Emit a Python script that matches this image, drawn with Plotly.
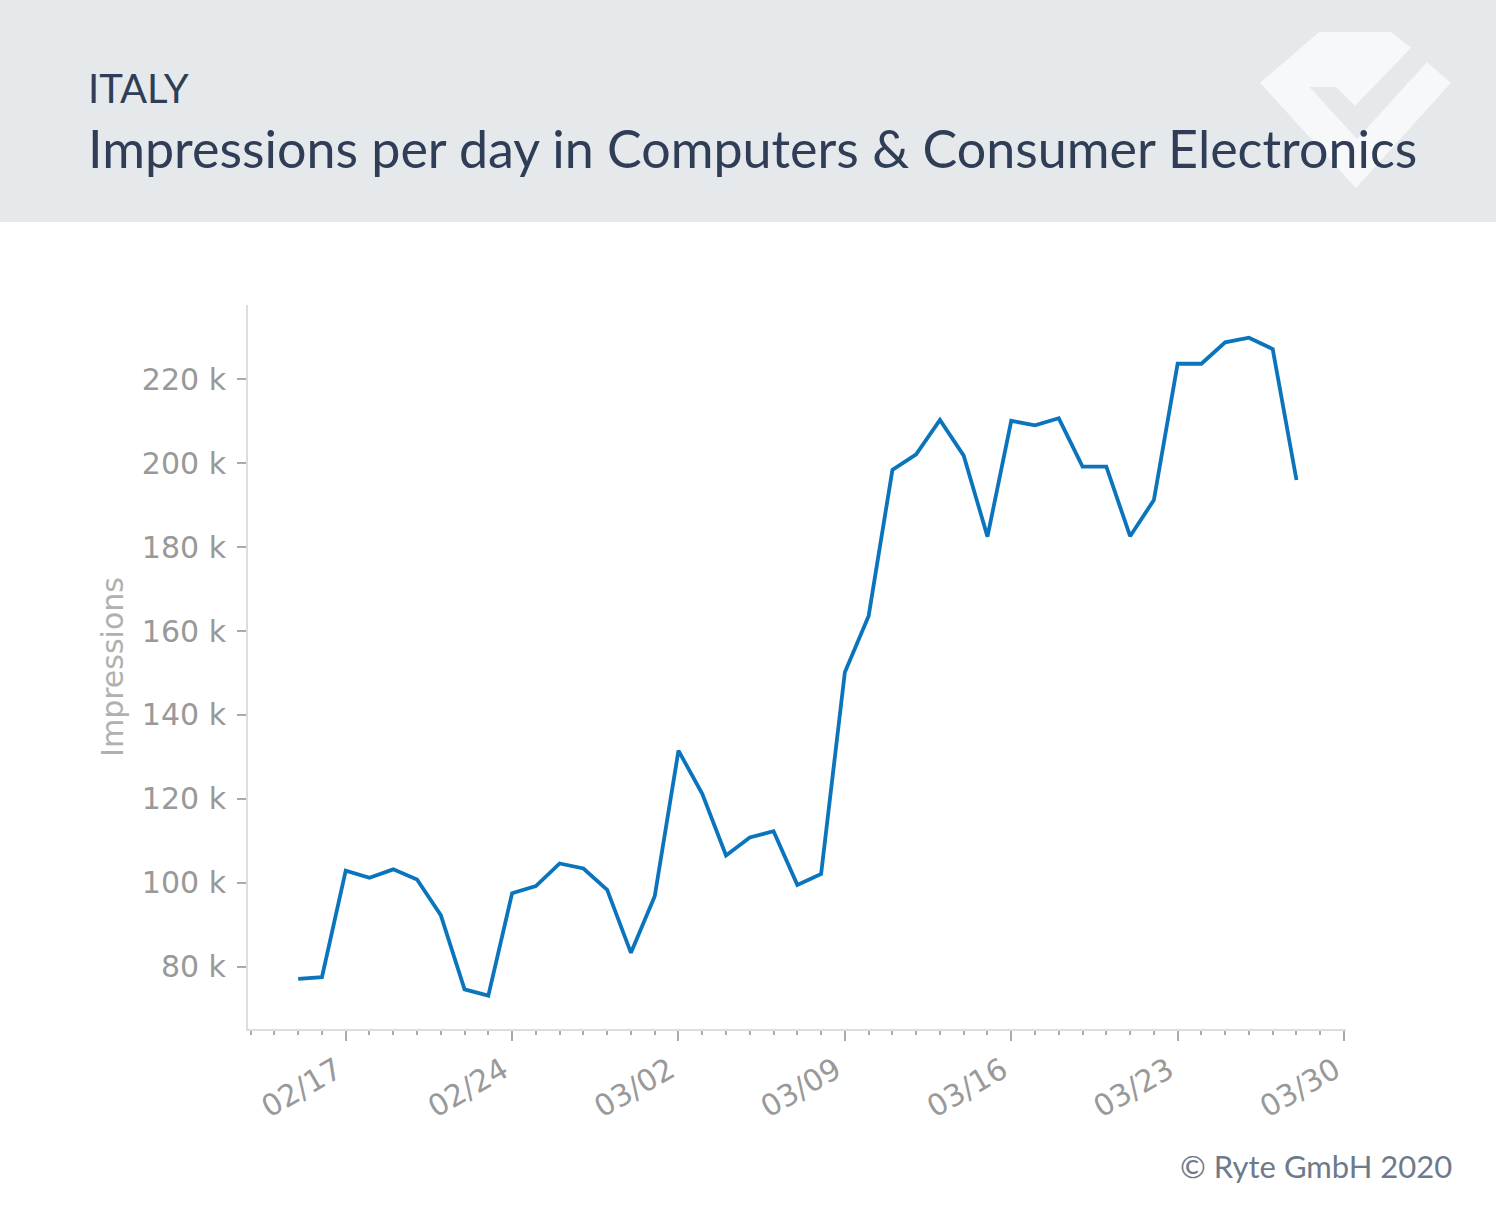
import plotly.graph_objects as go

# ---- data ----
dates = [
    "2020-02-15", "2020-02-16", "2020-02-17", "2020-02-18", "2020-02-19", "2020-02-20",
    "2020-02-21", "2020-02-22", "2020-02-23", "2020-02-24", "2020-02-25", "2020-02-26",
    "2020-02-27", "2020-02-28", "2020-02-29", "2020-03-01", "2020-03-02", "2020-03-03",
    "2020-03-04", "2020-03-05", "2020-03-06", "2020-03-07", "2020-03-08", "2020-03-09",
    "2020-03-10", "2020-03-11", "2020-03-12", "2020-03-13", "2020-03-14", "2020-03-15",
    "2020-03-16", "2020-03-17", "2020-03-18", "2020-03-19", "2020-03-20", "2020-03-21",
    "2020-03-22", "2020-03-23", "2020-03-24", "2020-03-25", "2020-03-26", "2020-03-27",
    "2020-03-28",
]
impressions = [
    77100, 77500, 102900, 101200, 103200, 100800,
    92300, 74600, 73100, 97500, 99200, 104600,
    103400, 98300, 83300, 96800, 131500, 121200,
    106500, 110800, 112300, 99500, 102100, 150200,
    163600, 198400, 202100, 210300, 201800, 182500,
    210100, 209000, 210700, 199200, 199200, 182600,
    191200, 223700, 223700, 228800, 229900, 227200,
    196000,
]
y_tickvals = [80000, 100000, 120000, 140000, 160000, 180000, 200000, 220000]
y_ticktext = ["80 k", "100 k", "120 k", "140 k", "160 k", "180 k", "200 k", "220 k"]

# ---- geometry ----
W, H = 1496, 1205
ML, MR, MT, MB = 248, 150, 305, 176
PW, PH = W - ML - MR, H - MT - MB


def px_x(x):
    return (x - ML) / PW


def px_y(y):
    return (H - MB - y) / PH


fig = go.Figure()
fig.add_trace(go.Scatter(
    x=dates, y=impressions, mode="lines",
    line=dict(color="#0a74bd", width=3.8),
    hoverinfo="skip", showlegend=False,
))

shapes = []
# header band
shapes.append(dict(type="rect", xref="paper", yref="paper",
                   x0=px_x(0), x1=px_x(W), y0=px_y(222), y1=px_y(0),
                   fillcolor="#e6e9ec", line=dict(width=0), layer="below"))
# logo
logo_pts = [(1263, 83), (1320, 34), (1390, 34), (1408, 48), (1355, 103), (1337, 85),
            (1305, 85), (1357, 142), (1427, 65), (1448, 83), (1356, 185)]
path = "M " + " L ".join(f"{px_x(a):.5f},{px_y(b):.5f}" for a, b in logo_pts) + " Z"
shapes.append(dict(type="path", xref="paper", yref="paper", path=path,
                   fillcolor="#f7f8fa", line=dict(color="#f7f8fa", width=4), layer="below"))

annotations = [
    dict(text="ITALY", xref="paper", yref="paper", x=px_x(86), y=px_y(88),
         xanchor="left", yanchor="middle", showarrow=False,
         font=dict(family="Lato", size=40, color="#2f3e56")),
    dict(text="Impressions per day in Computers &amp; Consumer Electronics",
         xref="paper", yref="paper", x=px_x(86), y=px_y(148),
         xanchor="left", yanchor="middle", showarrow=False,
         font=dict(family="Lato", size=52, color="#2f3e56")),
    dict(text="© Ryte GmbH 2020", xref="paper", yref="paper", x=px_x(1454), y=px_y(1166),
         xanchor="right", yanchor="middle", showarrow=False,
         font=dict(family="Lato", size=31, color="#6e7a8a")),
]

fig.update_layout(
    width=W, height=H,
    margin=dict(l=ML, r=MR, t=MT, b=MB, pad=0),
    paper_bgcolor="white", plot_bgcolor="white",
    shapes=shapes, annotations=annotations,
    font=dict(family="DejaVu Sans", size=30, color="#999999"),
    xaxis=dict(
        type="date",
        range=["2020-02-12 21:20", "2020-03-30 02:00"],
        tick0="2020-02-17", dtick=7 * 86400000, tickformat="%m/%d",
        tickangle=-30, ticks="outside", ticklen=10, tickwidth=2, tickcolor="#aaaaaa",
        ticklabelshift=-9,
        minor=dict(dtick=86400000, ticks="outside", ticklen=4, tickwidth=2, tickcolor="#aaaaaa"),
        showline=True, linecolor="#dddddd", linewidth=2,
        showgrid=False, zeroline=False,
        tickfont=dict(family="DejaVu Sans", size=30, color="#999999"),
    ),
    yaxis=dict(
        range=[65150, 237700],
        tickvals=y_tickvals, ticktext=y_ticktext,
        ticks="outside", ticklen=9, tickwidth=2, tickcolor="#aaaaaa",
        ticklabelstandoff=5,
        showline=True, linecolor="#dddddd", linewidth=2,
        showgrid=False, zeroline=False,
        title=dict(text="Impressions", standoff=9,
                   font=dict(family="DejaVu Sans", size=30, color="#b0b0b0")),
        tickfont=dict(family="DejaVu Sans", size=30, color="#999999"),
    ),
)

fig.write_html("out.html", config={"displayModeBar": False},
               post_script="document.body.style.margin='0';")
